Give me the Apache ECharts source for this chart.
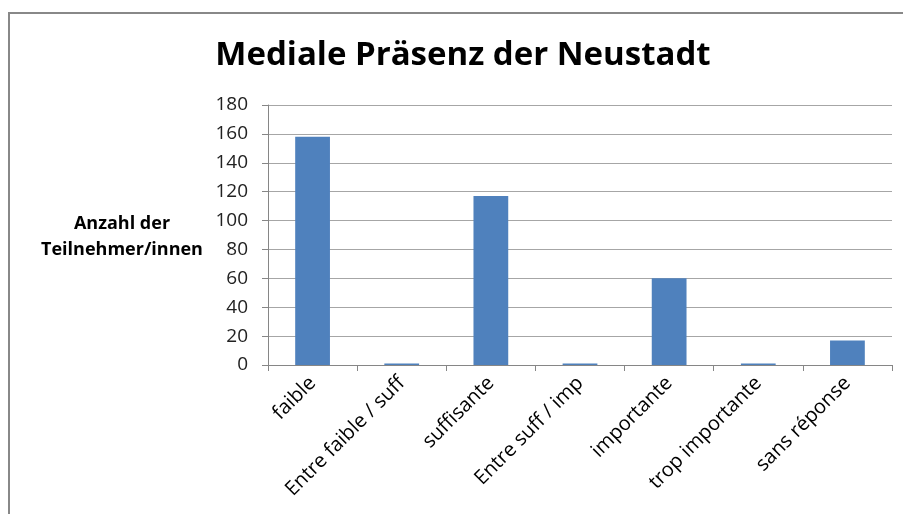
<!DOCTYPE html>
<html>
<head>
<meta charset="utf-8">
<script src="https://cdn.jsdelivr.net/npm/echarts@6/dist/echarts.min.js"></script>
<style>
  html, body { margin: 0; padding: 0; background: #fff; }
  #chart { width: 903px; height: 514px; }
</style>
</head>
<body>
<div id="chart"></div>
<script>
// Antworten und Anzahl der Teilnehmer
const categories = ['faible', 'Entre faible / suff', 'suffisante', 'Entre suff / imp', 'importante', 'trop importante', 'sans réponse']
const counts = [158, 1, 117, 1, 60, 1, 17]
const yTicks = { min: 0, max: 180, step: 20 }

const myChart = echarts.init(document.getElementById('chart'))

const options = {
  animation: false,
  textStyle: { fontFamily: 'Open Sans' },
  graphic: [{
    type: 'rect',
    shape: { x: 9, y: 13, width: 1000, height: 1000 },
    style: { fill: 'none', stroke: '#888', lineWidth: 2 }
  }, {
    type: 'text',
    x: 463,
    y: 56,
    style: {
      text: 'Mediale Präsenz der Neustadt',
      font: 'bold 33px "Open Sans"',
      fill: '#000',
      align: 'center',
      verticalAlign: 'middle'
    }
  }, {
    type: 'text',
    x: 122,
    y: 237,
    style: {
      text: 'Anzahl der\nTeilnehmer/innen',
      font: 'bold 18px "Open Sans"',
      fill: '#000',
      align: 'center',
      verticalAlign: 'middle',
      lineHeight: 26
    }
  }],
  grid: {
    left: 268,
    right: 11,
    top: 105,
    bottom: 149
  },
  xAxis: {
    type: 'category',
    data: categories,
    axisLine: { lineStyle: { color: '#868686', width: 1 } },
    axisTick: { show: true, length: 6, lineStyle: { color: '#868686' } },
    axisLabel: {
      rotate: 45,
      color: '#000',
      fontSize: 20,
      margin: 15,
      interval: 0
    }
  },
  yAxis: {
    type: 'value',
    min: yTicks.min,
    max: yTicks.max,
    interval: yTicks.step,
    axisLine: { show: true, lineStyle: { color: '#868686' } },
    axisTick: { show: true, length: 6, lineStyle: { color: '#868686' } },
    axisLabel: { color: '#222', fontSize: 19, margin: 20 },
    splitLine: { lineStyle: { color: '#a6a6a6', width: 1 } }
  },
  series: [{
    type: 'bar',
    data: counts,
    barWidth: '39%',
    itemStyle: { color: '#4f81bd' }
  }]
}

myChart.setOption(options)
</script>
</body>
</html>
